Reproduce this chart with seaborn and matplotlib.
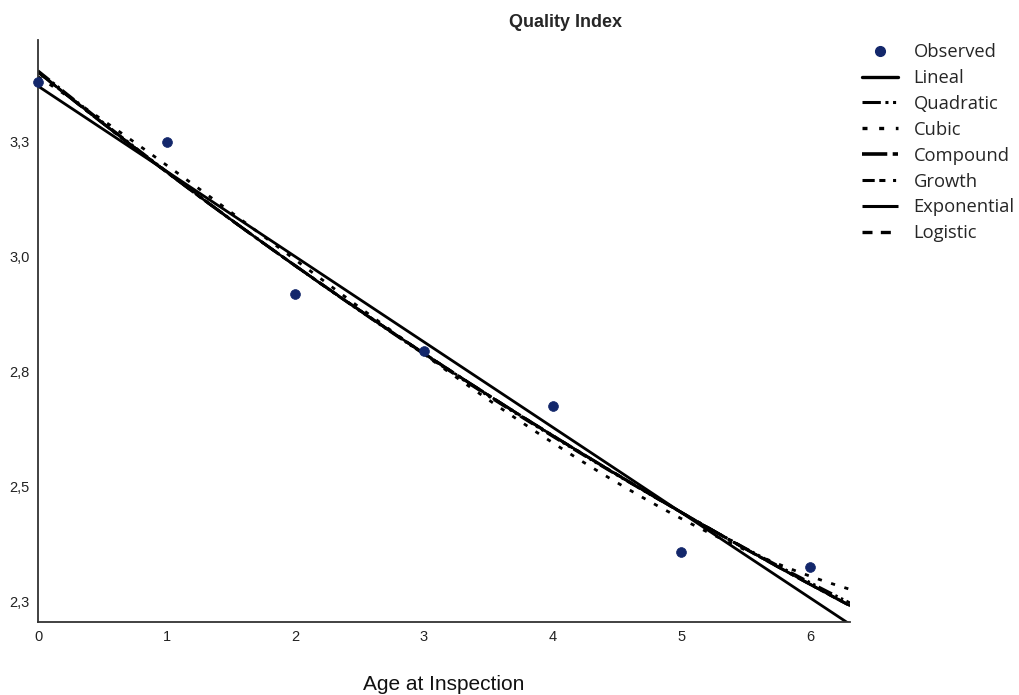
import numpy as np
import pandas as pd
import matplotlib
matplotlib.use("Agg")
import matplotlib.pyplot as plt
import seaborn as sns
from matplotlib.lines import Line2D

# ---- data ----
age = [0, 1, 2, 3, 4, 5, 6]
quality = [3.380, 3.250, 2.919, 2.794, 2.675, 2.359, 2.325]
ytick_vals = [2.25, 2.50, 2.75, 3.00, 3.25]
ytick_labels = ["2,3", "2,5", "2,8", "3,0", "3,3"]
xtick_vals = [0, 1, 2, 3, 4, 5, 6]
model_names = ["Lineal", "Quadratic", "Cubic", "Compound", "Growth", "Exponential", "Logistic"]

sns.set_style("white")
plt.rcParams['font.family'] = ['Liberation Sans', 'DejaVu Sans']

fig = plt.figure(figsize=(10.19, 6.95), dpi=100)
ax = fig.add_axes([0.0373, 0.1055, 0.7967, 0.837])

x = np.asarray(age, float)
y = np.asarray(quality, float)
grid = np.linspace(0, 6.32, 200)

# curve-estimation fits computed from the observed values
p1 = np.polyfit(x, y, 1)
p2 = np.polyfit(x, y, 2)
p3 = np.polyfit(x, y, 3)
pe = np.polyfit(x, np.log(y), 1)          # compound / growth / exponential
pl = np.polyfit(x, np.log(1.0 / y), 1)    # logistic (no upper bound)
fits = {
    "Lineal": np.polyval(p1, grid),
    "Quadratic": np.polyval(p2, grid),
    "Cubic": np.polyval(p3, grid),
    "Compound": np.exp(np.polyval(pe, grid)),
    "Growth": np.exp(np.polyval(pe, grid)),
    "Exponential": np.exp(np.polyval(pe, grid)),
    "Logistic": 1.0 / np.exp(np.polyval(pl, grid)),
}
styles = {
    "Lineal": "-",
    "Quadratic": (0, (6, 1.5, 1, 1.5, 1, 1.5)),
    "Cubic": (0, (1.5, 3.5)),
    "Compound": (0, (7, 1.5, 1.5, 1.5)),
    "Growth": (0, (4, 1.5, 2, 2.5, 1, 3)),
    "Exponential": (0, (12, 1.5, 1, 1.5)),
    "Logistic": (0, (3, 2.5)),
}
widths = {"Lineal": 2.0, "Quadratic": 1.8, "Cubic": 2.0, "Compound": 2.2,
          "Growth": 1.8, "Exponential": 1.8, "Logistic": 2.0}

for name in model_names:
    df = pd.DataFrame({"x": grid, "y": fits[name]})
    sns.lineplot(data=df, x="x", y="y", ax=ax, color="black",
                 linestyle=styles[name], linewidth=widths[name], legend=False)

obs = pd.DataFrame({"age": age, "quality": quality})
sns.scatterplot(data=obs, x="age", y="quality", ax=ax, color="#13276b",
                s=50, edgecolor="#13276b", linewidth=0.5, zorder=5, clip_on=False)

ax.set_xlim(0, 6.31)
ax.set_ylim(2.2065, 3.471)
ax.set_yticks(ytick_vals)
ax.set_yticklabels(ytick_labels)
ax.set_xticks(xtick_vals)
ax.set_xticklabels([str(v) for v in xtick_vals])
ax.tick_params(axis="both", length=0, labelsize=10.5, colors="#222222", pad=6)
ax.set_xlabel("Age at Inspection", fontsize=15, labelpad=22, color="#111111")
ax.set_ylabel("")
for s in ["top", "right"]:
    ax.spines[s].set_visible(False)
for s in ["left", "bottom"]:
    ax.spines[s].set_color("#333333")
    ax.spines[s].set_linewidth(1.3)

fig.text(0.555, 0.968, "Quality Index", ha="center", va="center",
         fontsize=13, fontweight="bold")

handles = [Line2D([0], [0], marker="o", linestyle="none", color="#13276b",
                  markersize=7)]
for name in model_names:
    handles.append(Line2D([0], [0], color="black", linestyle=styles[name],
                          linewidth=widths[name] + 0.4))
labels = ["Observed"] + model_names
leg = fig.legend(handles, labels, loc="upper left", bbox_to_anchor=(0.846, 0.938),
                 frameon=False, handlelength=1.95, handletextpad=0.85,
                 borderpad=0, borderaxespad=0,
                 labelspacing=0.43, prop={"family": ["Open Sans", "DejaVu Sans"], "size": 13.2})

fig.savefig("out.png", dpi=100)
